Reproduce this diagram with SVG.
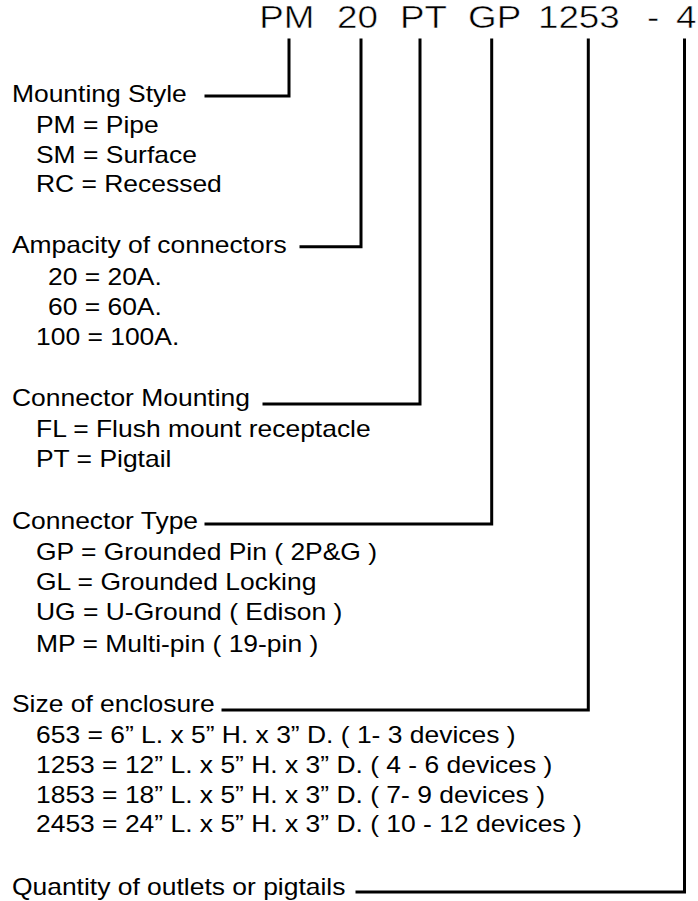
<svg xmlns="http://www.w3.org/2000/svg" width="698" height="901" viewBox="0 0 698 901">
<style>
text{font-family:"Liberation Sans",Arial,sans-serif;fill:#000}
.code{font-size:32px;stroke:#fff;stroke-width:0.5}
.t{font-size:23px}
.c{fill:none;stroke:#000;stroke-width:3;stroke-linecap:square}
</style>
<rect width="698" height="901" fill="#fff"/>
<g id="code" transform="scale(1.15 1)">
<text class="code" x="225.5" y="28">PM</text>
<text class="code" x="293" y="28">20</text>
<text class="code" x="347.8" y="28">PT</text>
<text class="code" x="407" y="28">GP</text>
<text class="code" x="467.8" y="28">1253</text>
<text class="code" x="562.6" y="28">-</text>
<text class="code" x="587.8" y="28">4</text>
</g>
<g id="mounting-style" transform="scale(1.15 1)">
<text class="t" x="10.4" y="102">Mounting Style</text>
<text class="t" x="31.3" y="133">PM = Pipe</text>
<text class="t" x="31.3" y="163">SM = Surface</text>
<text class="t" x="31.3" y="192">RC = Recessed</text>
</g>
<g id="ampacity" transform="scale(1.15 1)">
<text class="t" x="10.4" y="253">Ampacity of connectors</text>
<text class="t" x="41.7" y="285">20 = 20A.</text>
<text class="t" x="41.7" y="315">60 = 60A.</text>
<text class="t" x="31.3" y="345">100 = 100A.</text>
</g>
<g id="connector-mounting" transform="scale(1.15 1)">
<text class="t" x="10.4" y="406">Connector Mounting</text>
<text class="t" x="31.3" y="437">FL = Flush mount receptacle</text>
<text class="t" x="31.3" y="467">PT = Pigtail</text>
</g>
<g id="connector-type" transform="scale(1.15 1)">
<text class="t" x="10.4" y="529">Connector Type</text>
<text class="t" x="31.3" y="560">GP = Grounded Pin ( 2P&amp;G )</text>
<text class="t" x="31.3" y="590">GL = Grounded Locking</text>
<text class="t" x="31.3" y="620">UG = U-Ground ( Edison )</text>
<text class="t" x="31.3" y="652">MP = Multi-pin ( 19-pin )</text>
</g>
<g id="enclosure-size" transform="scale(1.15 1)">
<text class="t" x="10.4" y="712">Size of enclosure</text>
<text class="t" x="31.3" y="743">653 = 6” L. x 5” H. x 3” D. ( 1- 3 devices )</text>
<text class="t" x="31.3" y="773">1253 = 12” L. x 5” H. x 3” D. ( 4 - 6 devices )</text>
<text class="t" x="31.3" y="803">1853 = 18” L. x 5” H. x 3” D. ( 7- 9 devices )</text>
<text class="t" x="31.3" y="832">2453 = 24” L. x 5” H. x 3” D. ( 10 - 12 devices )</text>
</g>
<g id="quantity" transform="scale(1.15 1)">
<text class="t" x="10.4" y="895">Quantity of outlets or pigtails</text>
</g>
<g id="connectors">
<path class="c" d="M206 96H289V40"/>
<path class="c" d="M301 246.7H361V40"/>
<path class="c" d="M264 404H420V40"/>
<path class="c" d="M206 524H491.7V40"/>
<path class="c" d="M223 710H588.3V40"/>
<path class="c" d="M357 892H684.5V40"/>
</g>
</svg>
